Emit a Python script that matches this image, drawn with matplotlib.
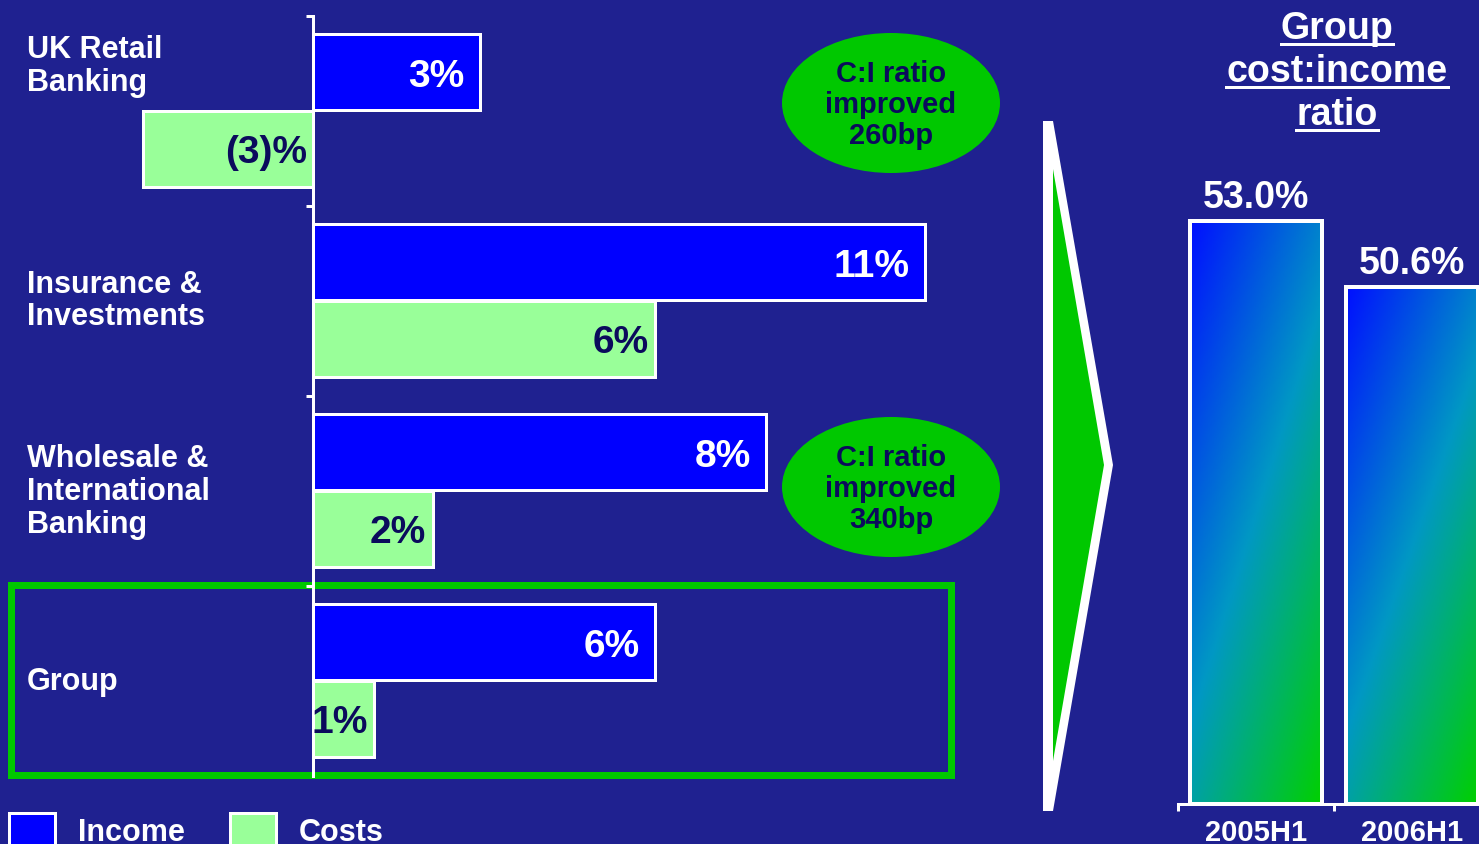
import numpy as np
import matplotlib
matplotlib.use('Agg')
import matplotlib.pyplot as plt
import matplotlib.transforms as mtransforms
from matplotlib.patches import Rectangle, Ellipse, Polygon, Patch
from matplotlib.colors import LinearSegmentedColormap
from matplotlib.lines import Line2D

plt.rcParams['font.family'] = ['Liberation Sans', 'DejaVu Sans']

# ---------------- data ----------------
divisions = ['UK Retail\nBanking', 'Insurance &\nInvestments',
             'Wholesale &\nInternational\nBanking', 'Group']
income_growth = [3.0, 11.0, 8.15, 6.15]
cost_growth = [-3.05, 6.15, 2.15, 1.1]
income_labels = ['3%', '11%', '8%', '6%']
cost_labels = ['(3)%', '6%', '2%', '1%']
series_names = ['Income', 'Costs']
ci_periods = ['2005H1', '2006H1']
ci_ratio = [53.0, 50.6]
ci_labels = ['53.0%', '50.6%']
ci_title = ['Group', 'cost:income', 'ratio']
callouts = ['C:I ratio\nimproved\n260bp', 'C:I ratio\nimproved\n340bp']

# ---------------- style ----------------
W, H = 1479, 845
BG = '#1f2190'
BLUE = '#0000ff'
LGREEN = '#99ff99'
GREEN = '#00c800'
NAVY = '#0b0b5c'
PX = 72 / 100  # points per pixel

fig = plt.figure(figsize=(W / 100, H / 100), dpi=100, facecolor=BG)


def fx(px):
    return px / W


def fy(py):
    return 1 - py / H


# overlay axes in pixel coordinates for decorations
ov = fig.add_axes([0, 0, 1, 1], zorder=0)
ov.set_xlim(0, W)
ov.set_ylim(H, 0)
ov.axis('off')

# ---------------- left: growth bars ----------------
L0, L1 = 0, 1000
T0, T1 = 17, 777
ax = fig.add_axes([fx(L0), fy(T1), (L1 - L0) / W, (T1 - T0) / H], zorder=2)
ax.patch.set_alpha(0)
ppu = 55.6
zero_px = 313
ax.set_xlim((L0 - zero_px) / ppu, (L1 - zero_px) / ppu)
ax.set_ylim(4, 0)

n = len(divisions)
idx = np.arange(n)
y_inc = idx + 0.295
y_cost = idx + 0.70
ax.barh(y_inc, income_growth, height=0.40, color=BLUE, edgecolor='white',
        linewidth=3 * PX, zorder=3)
ax.barh(y_cost, cost_growth, height=0.40, color=LGREEN, edgecolor='white',
        linewidth=3 * PX, zorder=3)

for v, y, lab in zip(income_growth, y_inc, income_labels):
    ax.annotate(lab, xy=(max(v, 0), y), xytext=(-11, -2.5), textcoords='offset points',
                ha='right', va='center', color='white', fontsize=28,
                fontweight='bold', zorder=5)
for v, y, lab in zip(cost_growth, y_cost, cost_labels):
    ax.annotate(lab, xy=(max(v, 0), y), xytext=(-4.5, -2.5), textcoords='offset points',
                ha='right', va='center', color=NAVY, fontsize=28,
                fontweight='bold', zorder=5)

for s in ['top', 'right', 'bottom']:
    ax.spines[s].set_visible(False)
ax.spines['left'].set_position(('data', 0))
ax.spines['left'].set_color('white')
ax.spines['left'].set_linewidth(3 * PX)
ax.set_yticks(idx)
ax.set_yticklabels([])
ax.set_xticks([])
ax.tick_params(axis='y', direction='out', length=7 * PX,
               width=3 * PX, color='white')

trans = mtransforms.blended_transform_factory(fig.transFigure, ax.transData)
label_y = [0.26, 0.495, 0.50, 0.50]
for i, (lab, yy) in enumerate(zip(divisions, label_y)):
    ax.text(fx(27), i + yy, lab, transform=trans, ha='left', va='center',
            color='white', fontsize=22, fontweight='bold', linespacing=1.12)

# group highlight box
ov.add_patch(Rectangle((11, 586), 940, 190, fill=False, edgecolor=GREEN,
                       linewidth=7 * PX))

# legend
handles = [Patch(facecolor=BLUE, edgecolor='white', linewidth=3 * PX),
           Patch(facecolor=LGREEN, edgecolor='white', linewidth=3 * PX)]
leg = fig.legend(handles, series_names, loc='upper left',
                 bbox_to_anchor=(fx(9), fy(814)), bbox_transform=fig.transFigure,
                 ncol=2, frameon=False, borderpad=0, borderaxespad=0,
                 handlelength=1.5, handleheight=1.3, handletextpad=0.75,
                 columnspacing=1.5, prop={'size': 22, 'weight': 'bold'},
                 labelcolor='white')

# callout ellipses
for cy, txt in zip([104, 488], callouts):
    ov.add_patch(Ellipse((891, cy), 218, 140, facecolor=GREEN, edgecolor='none'))
    ov.text(891, cy + 1, txt, ha='center', va='center', color=NAVY,
            fontsize=21, fontweight='bold', linespacing=1.15)

# arrow
ov.add_patch(Polygon([(1043, 122), (1053, 122), (1113, 466), (1053, 812),
                      (1043, 812)], closed=True, facecolor='white',
                     edgecolor='none'))
ov.add_patch(Polygon([(1053, 170), (1104, 466), (1053, 762)], closed=True,
                     facecolor=GREEN, edgecolor='none'))

# ---------------- right: cost:income ratio ----------------
R0, R1 = 1178, 1490
RT, RB = 150, 805
ax2 = fig.add_axes([fx(R0), fy(RB), (R1 - R0) / W, (RB - RT) / H], zorder=2)
ax2.patch.set_alpha(0)
ybot = 31.8
ppu2 = 27.5
ytop = ybot + (RB - RT) / ppu2
xpos = np.arange(len(ci_periods)) + 0.5
bw = 0.85

cmap = LinearSegmentedColormap.from_list(
    'ci', [(0.0, '#0010ff'), (0.5, '#0098c4'), (1.0, '#00d000')])
gx, gy = np.meshgrid(np.linspace(0, 1, 60), np.linspace(0, 1, 200))
grad = 0.42 * gx + 0.58 * gy

bars = ax2.bar(xpos, np.array(ci_ratio) - ybot, bottom=ybot, width=bw,
               facecolor='none', edgecolor='white', linewidth=4 * PX, zorder=3)
for b, v in zip(bars, ci_ratio):
    im = ax2.imshow(grad, extent=[b.get_x(), b.get_x() + bw, ybot, v],
                    origin='upper', cmap=cmap, aspect='auto', zorder=2,
                    vmin=0, vmax=1)
    im.set_clip_path(b)
for x, v, lab in zip(xpos, ci_ratio, ci_labels):
    ax2.annotate(lab, xy=(x, v), xytext=(0, 4), textcoords='offset points',
                 ha='center', va='bottom', color='white', fontsize=27,
                 fontweight='bold')
ax2.set_xlim(0, 2)
ax2.set_ylim(ybot, ytop)
for s in ['top', 'right', 'left']:
    ax2.spines[s].set_visible(False)
ax2.spines['bottom'].set_color('white')
ax2.spines['bottom'].set_linewidth(3 * PX)
ax2.set_yticks([])
ax2.set_xticks([0, 1, 2])
ax2.set_xticklabels([])
ax2.set_xticks(xpos, minor=True)
ax2.set_xticklabels(ci_periods, minor=True, color='white', fontsize=21,
                    fontweight='bold')
ax2.tick_params(axis='x', which='major', direction='out', length=7 * PX,
                width=3 * PX, color='white')
ax2.tick_params(axis='x', which='minor', length=0, pad=10)

# title with underline
title_base = [39, 82, 125]
for txt, yb in zip(ci_title, title_base):
    t = ov.text(1337, yb, txt, ha='center', va='baseline', color='white',
                fontsize=27, fontweight='bold')
    bb = t.get_window_extent(renderer=fig.canvas.get_renderer())
    ov.add_line(Line2D([bb.x0, bb.x1], [yb + 6, yb + 6], color='white',
                       linewidth=3 * PX))

fig.savefig('out.png', dpi=100, facecolor=BG)
